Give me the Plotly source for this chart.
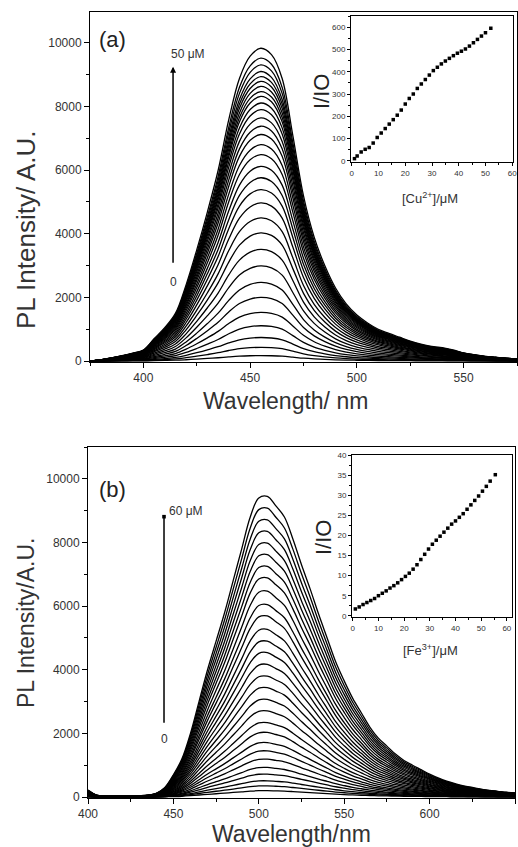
import plotly.graph_objects as go

# ---------------- data ----------------
# panel (a): outer (highest) spectrum profile, read at 5 nm steps
wl_a = [375, 380, 385, 390, 395, 400, 405, 410, 415, 420, 425, 430, 435, 440, 445,
        450, 455, 460, 465, 470, 475, 480, 485, 490, 495, 500, 505, 510, 515, 520,
        525, 530, 535, 540, 545, 550, 555, 560, 565, 570, 575]
shape_a = [0, 40, 100, 170, 250, 350, 700, 1050, 1500, 2400, 3500, 4700, 6000, 7600, 8900,
           9600, 9850, 9650, 8900, 7100, 5200, 3900, 3000, 2300, 1800, 1450, 1200, 1000, 870, 750,
           630, 530, 460, 420, 350, 260, 200, 150, 120, 90, 70]
# peak intensities of each spectrum in the Cu2+ titration (0 -> 50 uM)
peaks_a = [170, 430, 740, 1110, 1530, 2000, 2470, 2990, 3510, 4030, 4500, 4970, 5390, 5760,
           6120, 6490, 6800, 7120, 7380, 7640, 7900, 8110, 8320, 8470, 8630, 8790, 8940, 9100,
           9310, 9520, 9830]

# panel (b): outer spectrum profile
wl_b = [400, 405, 410, 415, 420, 425, 430, 435, 440, 445, 450, 455, 460, 465, 470, 475, 480,
        485, 490, 495, 500, 505, 510, 515, 520, 525, 530, 535, 540, 545, 550, 555, 560, 565,
        570, 575, 580, 585, 590, 595, 600, 605, 610, 615, 620, 625, 630, 635, 640, 645, 650]
shape_b = [220, 60, 30, 30, 30, 30, 40, 60, 120, 300, 700, 1200, 2000, 3000, 4000, 4900, 5800,
           6800, 7800, 8800, 9400, 9450, 9150, 8800, 8100, 7300, 6550, 5750, 5000, 4250, 3650,
           3100, 2650, 2200, 1850, 1600, 1350, 1150, 1000, 860, 720, 600, 500, 420, 350, 300,
           250, 210, 180, 150, 130]
# peak intensities of each spectrum in the Fe3+ titration (0 -> 60 uM)
peaks_b = [200, 350, 510, 720, 930, 1190, 1450, 1710, 2030, 2340, 2710, 3070, 3440, 3800,
           4170, 4540, 4900, 5270, 5690, 6050, 6470, 6890, 7250, 7620, 7980, 8350, 8710, 9080,
           9450]

# insets
cu_conc = [1, 2, 3.5, 5, 6.5, 8, 9.5, 11, 12.5, 14, 15.5, 17, 18.5, 20, 21.5, 23, 24.5, 26,
           27.5, 29, 30.5, 32, 33.5, 35, 36.5, 38, 39.5, 41, 42.5, 44, 45.5, 47, 48.5, 50, 52]
cu_ratio = [10, 22, 40, 52, 60, 80, 105, 125, 145, 165, 185, 205, 228, 255, 280, 300, 325, 345,
            365, 385, 405, 420, 435, 448, 460, 472, 483, 492, 502, 515, 530, 545, 560, 575, 595]
fe_conc = [1, 2.5, 4, 5.5, 7, 8.5, 10, 11.5, 13, 14.5, 16, 17.5, 19, 20.5, 22, 23.5, 25, 26.5,
           28, 29.5, 31, 32.5, 34, 35.5, 37, 38.5, 40, 41.5, 43, 44.5, 46, 47.5, 49, 50.5, 52,
           53.5, 55.5]
fe_ratio = [1.7, 2.2, 2.8, 3.3, 3.8, 4.3, 5.0, 5.6, 6.2, 6.9, 7.5, 8.2, 9.0, 9.8, 10.6, 11.6,
            12.7, 14.0, 15.3, 16.6, 17.8, 18.8, 19.8, 20.8, 21.8, 22.8, 23.6, 24.5, 25.4, 26.5,
            27.6, 28.7, 29.8, 31.0, 32.2, 33.5, 35.1]

# ---------------- figure ----------------
W, H = 518, 847
FONT = "Arial, Liberation Sans, sans-serif"
GREY = "#333333"


def px(x):
    return x / W


def py(y):
    return 1 - y / H


fig = go.Figure()

amax = max(shape_a)
for p in peaks_a:
    fig.add_trace(go.Scatter(x=wl_a, y=[v * p / amax for v in shape_a], mode="lines",
                             line=dict(color="black", width=1.3, shape="spline"),
                             xaxis="x", yaxis="y", showlegend=False, hoverinfo="skip"))
bmax = max(shape_b)
for p in peaks_b:
    fig.add_trace(go.Scatter(x=wl_b, y=[v * p / bmax for v in shape_b], mode="lines",
                             line=dict(color="black", width=1.3, shape="spline"),
                             xaxis="x3", yaxis="y3", showlegend=False, hoverinfo="skip"))

fig.add_trace(go.Scatter(x=cu_conc, y=cu_ratio, mode="markers",
                         marker=dict(color="black", size=3.5, symbol="square"),
                         xaxis="x2", yaxis="y2", showlegend=False))
fig.add_trace(go.Scatter(x=fe_conc, y=fe_ratio, mode="markers",
                         marker=dict(color="black", size=3.5, symbol="square"),
                         xaxis="x4", yaxis="y4", showlegend=False))


def main_axis(domain, rng, dtick, minor, anchor, tick0=0):
    return dict(domain=domain, range=rng, anchor=anchor, showline=True, linecolor="black",
                linewidth=1, mirror=True, ticks="outside", ticklen=5, tickcolor="black",
                dtick=dtick, tick0=tick0, showgrid=False, zeroline=False, automargin=False,
                tickformat="d", tickfont=dict(family=FONT, size=12, color=GREY),
                minor=dict(ticks="outside", ticklen=3, dtick=minor, tickcolor="black", showgrid=False))


def inset_axis(domain, rng, dtick, minor, anchor):
    return dict(domain=domain, range=rng, anchor=anchor, showline=True, linecolor="black",
                linewidth=1, mirror=True, ticks="outside", ticklen=3, tickcolor="black",
                dtick=dtick, tick0=0, showgrid=False, zeroline=False, automargin=False,
                tickformat="d", tickfont=dict(family=FONT, size=8, color=GREY),
                minor=dict(ticks="outside", ticklen=2, dtick=minor, tickcolor="black", showgrid=False))


fig.update_layout(
    width=W, height=H, margin=dict(l=0, r=0, t=0, b=0, autoexpand=False),
    paper_bgcolor="white", plot_bgcolor="white", showlegend=False,
    xaxis=main_axis([px(90), px(517)], [375, 575], 50, 25, "y", tick0=400),
    yaxis=main_axis([py(362), py(12)], [-30, 10970], 2000, 1000, "x"),
    xaxis2=inset_axis([px(351), px(513)], [-0.3, 60.3], 10, 5, "y2"),
    yaxis2=inset_axis([py(162), py(16)], [-5, 650], 100, 50, "x2"),
    xaxis3=main_axis([px(88), px(515)], [400, 650], 50, 25, "y3", tick0=400),
    yaxis3=main_axis([py(798), py(447)], [-30, 11000], 2000, 1000, "x3"),
    xaxis4=inset_axis([px(352), px(512)], [-0.3, 62], 10, 5, "y4"),
    yaxis4=inset_axis([py(617), py(455)], [-0.3, 40], 5, 2.5, "x4"),
)

ann = []


def text(x, y, s, size, angle=0, color=GREY, xanchor="center"):
    ann.append(dict(x=px(x), y=py(y), xref="paper", yref="paper", text=s, showarrow=False,
                    textangle=angle, xanchor=xanchor, yanchor="middle",
                    font=dict(family=FONT, size=size, color=color)))


# panel labels
text(112, 39, "(a)", 22, color="#222222")
text(112, 489, "(b)", 22, color="#222222")
# axis titles
text(26, 230, "PL Intensity/ A.U.", 26, angle=-90)
text(285, 401, "Wavelength/ nm", 23)
text(26, 623, "PL Intensity/A.U.", 23, angle=-90)
text(291, 834, "Wavelength/nm", 23)
# inset titles
text(322, 92, "I/IO", 22, angle=-90, color="#222222")
text(430, 198, "[Cu<sup>2+</sup>]/\u03bcM", 13)
text(323, 538, "I/IO", 22, angle=-90, color="#222222")
text(430, 650, "[Fe<sup>3+</sup>]/\u03bcM", 13)

# titration arrows (data coordinates)
ann.append(dict(x=413.9, y=9250, ax=413.9, ay=3040, xref="x", yref="y", axref="x", ayref="y",
                showarrow=True, arrowhead=2, arrowsize=0.8, arrowwidth=1.5, arrowcolor="black", text=""))
ann.append(dict(x=421, y=9650, xref="x", yref="y", text="50 \u03bcM", showarrow=False,
                font=dict(family=FONT, size=12, color=GREY)))
ann.append(dict(x=413.9, y=2480, xref="x", yref="y", text="0", showarrow=False,
                font=dict(family=FONT, size=12, color=GREY)))

ann.append(dict(x=444.5, y=8810, ax=444.5, ay=2290, xref="x3", yref="y3", axref="x3", ayref="y3",
                showarrow=True, arrowhead=7, arrowsize=0.6, arrowwidth=1.5, arrowcolor="black", text=""))
ann.append(dict(x=457.5, y=9000, xref="x3", yref="y3", text="60 \u03bcM", showarrow=False,
                font=dict(family=FONT, size=12, color=GREY)))
ann.append(dict(x=444.5, y=1820, xref="x3", yref="y3", text="0", showarrow=False,
                font=dict(family=FONT, size=12, color=GREY)))

fig.update_layout(annotations=ann)
fig.write_html("out.html", config={"displayModeBar": False},
               post_script="document.body.style.margin='0';document.body.style.overflow='hidden';")
